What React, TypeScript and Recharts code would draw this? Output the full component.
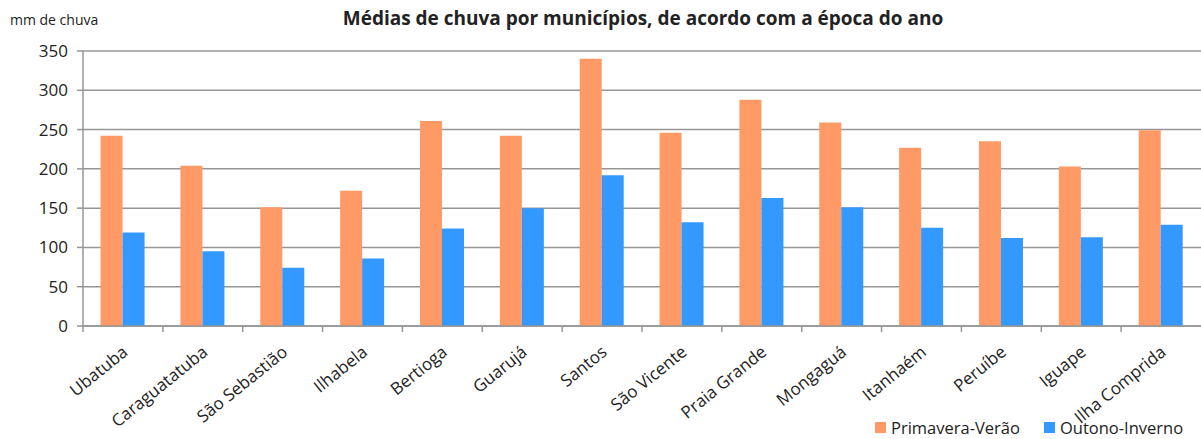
import React from 'react';
import { BarChart, Bar, XAxis, YAxis, CartesianGrid, Legend } from 'recharts';

const municipios = [
  'Ubatuba', 'Caraguatatuba', 'São Sebastião', 'Ilhabela', 'Bertioga', 'Guarujá', 'Santos',
  'São Vicente', 'Praia Grande', 'Mongaguá', 'Itanhaém', 'Peruíbe', 'Iguape', 'Ilha Comprida',
];
const primaveraVerao = [242, 204, 151, 172, 261, 242, 340, 246, 288, 259, 227, 235, 203, 249];
const outonoInverno = [119, 95, 74, 86, 124, 150, 192, 132, 163, 151, 125, 112, 113, 129];
const yTicks = [0, 50, 100, 150, 200, 250, 300, 350];
const seriesNames = ['Primavera-Verão', 'Outono-Inverno'];
const seriesColors = ['#FF9966', '#3399FF'];

const data = municipios.map((nome, i) => ({
  nome,
  pv: primaveraVerao[i],
  oi: outonoInverno[i],
}));

const FONT = "'Open Sans', sans-serif";
const GRID = '#969696';

function CategoryTick(props: any) {
  const { x, y, payload } = props;
  const half = payload.offset || 0;
  return (
    <g>
      <line x1={x - half} y1={y} x2={x - half} y2={y + 6} stroke={GRID} strokeWidth={1.5} />
      <text
        x={x + 6}
        y={y + 28}
        textAnchor="end"
        transform={`rotate(-39, ${x + 6}, ${y + 28})`}
        fontFamily={FONT}
        fontSize={17}
        fill="#222"
      >
        {payload.value}
      </text>
    </g>
  );
}

function LegendBox() {
  return (
    <div style={{ display: 'flex', alignItems: 'center', whiteSpace: 'nowrap', fontFamily: FONT, fontSize: 16.5, color: '#222' }}>
      {seriesNames.map((name, i) => (
        <div key={name} style={{ display: 'flex', alignItems: 'center', marginRight: i === 0 ? 24 : 0 }}>
          <span style={{ width: 11, height: 11, background: seriesColors[i], marginRight: 5, display: 'inline-block' }} />
          <span>{name}</span>
        </div>
      ))}
    </div>
  );
}

export default function App() {
  return (
    <div style={{ position: 'relative', width: 1201, height: 439, background: '#fff' }}>
      <style>{'body{margin:0;}'}</style>
      <div style={{ position: 'absolute', left: 10, top: 10, fontFamily: FONT, fontSize: 14, lineHeight: '20px', color: '#222' }}>
        mm de chuva
      </div>
      <div style={{ position: 'absolute', left: 0, width: 1286, top: 5, textAlign: 'center', fontFamily: FONT, fontSize: 19, fontWeight: 700, lineHeight: '26px', color: '#222' }}>
        Médias de chuva por municípios, de acordo com a época do ano
      </div>
      <BarChart
        width={1201}
        height={439}
        data={data}
        margin={{ top: 51, right: 0, left: 0, bottom: 0 }}
        barCategoryGap="22%"
        barGap={0}
      >
        <CartesianGrid vertical={false} stroke={GRID} strokeWidth={1.5} />
        <XAxis
          dataKey="nome"
          interval={0}
          height={113}
          tickSize={0}
          tickMargin={0}
          tickLine={false}
          axisLine={{ stroke: GRID, strokeWidth: 1.5 }}
          tick={<CategoryTick />}
        />
        <YAxis
          width={83}
          domain={[0, 350]}
          ticks={yTicks}
          interval={0}
          tickSize={6}
          tickMargin={9}
          tickLine={{ stroke: GRID, strokeWidth: 1.5 }}
          axisLine={{ stroke: GRID, strokeWidth: 1.5 }}
          tick={{ fontFamily: FONT, fontSize: 17, fill: '#222' }}
        />
        <Legend
          layout="horizontal"
          verticalAlign="middle"
          content={<LegendBox />}
          wrapperStyle={{ left: 875, top: 416, width: 320 }}
        />
        <Bar dataKey="pv" name={seriesNames[0]} fill={seriesColors[0]} isAnimationActive={false} />
        <Bar dataKey="oi" name={seriesNames[1]} fill={seriesColors[1]} isAnimationActive={false} />
      </BarChart>
    </div>
  );
}
